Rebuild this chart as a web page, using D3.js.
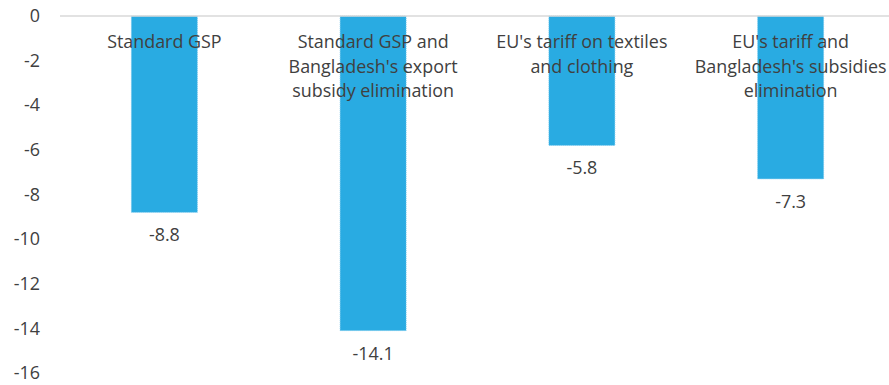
<!DOCTYPE html>
<html>
<head>
<meta charset="utf-8">
<script src="https://cdn.jsdelivr.net/npm/d3@7"></script>
<style>
  html, body { margin: 0; padding: 0; background: #fff; }
  svg { display: block; }
  text { font-family: "Open Sans", "Noto Sans", sans-serif; fill: #404040; }
</style>
</head>
<body>
<svg id="chart" width="889" height="385"></svg>
<script>
// Scenario names (each entry is the list of wrapped lines) and their values
const scenarios = [
  ["Standard GSP"],
  ["Standard GSP and", "Bangladesh's export", "subsidy elimination"],
  ["EU's tariff on textiles", "and clothing"],
  ["EU's tariff and", "Bangladesh's subsidies", "elimination"]
];
const values = [-8.8, -14.1, -5.8, -7.3];
const yTicks = [0, -2, -4, -6, -8, -10, -12, -14, -16];

const W = 889, H = 385;
const margin = { top: 16, right: 0, bottom: 12, left: 60 };
const fontSize = 17.9;

const svg = d3.select("#chart");

// plain hyphen for negative numbers
const hyphen = s => s.replace("\u2212", "-");

const x = d3.scaleBand()
  .domain(d3.range(values.length))
  .range([margin.left, margin.left + 835])
  .paddingInner(0.684)
  .paddingOuter(0.342);

const y = d3.scaleLinear()
  .domain([0, -16])
  .range([margin.top, H - margin.bottom]);

// Value axis: labels only, no line or ticks
const yAxis = d3.axisLeft(y).tickValues(yTicks).tickSize(0).tickPadding(0)
  .tickFormat(d => hyphen(d3.format("d")(d)));
svg.append("g")
  .attr("transform", `translate(40,0)`)
  .call(yAxis)
  .call(g => g.select(".domain").remove())
  .call(g => g.selectAll("text")
    .attr("font-family", "Open Sans, sans-serif")
    .attr("font-size", fontSize)
    .attr("fill", "#404040"));

// Bars
svg.append("g").selectAll("rect")
  .data(values)
  .join("rect")
  .attr("x", (d, i) => x(i))
  .attr("width", x.bandwidth())
  .attr("y", y(0))
  .attr("height", d => y(d) - y(0))
  .attr("fill", "#29abe2")
  .attr("stroke", "#6cc4ec")
  .attr("stroke-width", 0.8)
  .attr("stroke-dasharray", "1,1");

// Zero line
svg.append("line")
  .attr("x1", margin.left).attr("x2", W)
  .attr("y1", y(0)).attr("y2", y(0))
  .attr("stroke", "#d9d9d9").attr("stroke-width", 1.5);

// Category labels drawn near the top of each band
const cat = svg.append("g").selectAll("text")
  .data(scenarios)
  .join("text")
  .attr("text-anchor", "middle")
  .attr("font-size", fontSize)
  .attr("x", (d, i) => x(i) + x.bandwidth() / 2)
  .attr("y", 48);
cat.selectAll("tspan")
  .data(d => d)
  .join("tspan")
  .attr("x", function () { return d3.select(this.parentNode).attr("x"); })
  .attr("dy", (d, i) => i === 0 ? 0 : 24.5)
  .text(d => d);

// Value labels below each bar
svg.append("g").selectAll("text")
  .data(values)
  .join("text")
  .attr("text-anchor", "middle")
  .attr("font-size", fontSize)
  .attr("x", (d, i) => x(i) + x.bandwidth() / 2)
  .attr("y", d => y(d) + 29)
  .text(d => hyphen(d3.format(".1f")(d)));
</script>
</body>
</html>
